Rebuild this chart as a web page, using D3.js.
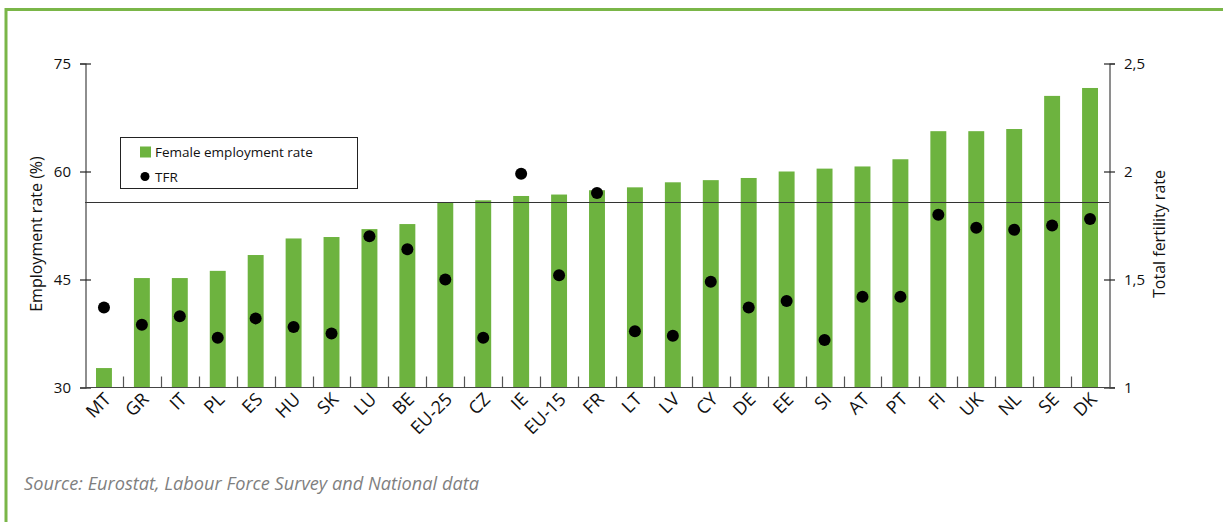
<!DOCTYPE html>
<html>
<head>
<meta charset="utf-8">
<title>Female employment rate and TFR</title>
<script src="https://d3js.org/d3.v7.min.js"></script>
<style>
  body { margin: 0; background: #fff; }
  text { font-family: "Open Sans", "Noto Sans", sans-serif; fill: #111; }
</style>
</head>
<body>
<div id="chart"></div>
<script>
// data
var countries = ["MT", "GR", "IT", "PL", "ES", "HU", "SK", "LU", "BE", "EU-25", "CZ", "IE", "EU-15",
  "FR", "LT", "LV", "CY", "DE", "EE", "SI", "AT", "PT", "FI", "UK", "NL", "SE", "DK"];
var employment = [32.7, 45.2, 45.2, 46.2, 48.4, 50.7, 50.9, 52.0, 52.7, 55.7, 56.0, 56.6, 56.8,
  57.4, 57.8, 58.5, 58.8, 59.1, 60.0, 60.4, 60.7, 61.7, 65.6, 65.6, 65.9, 70.5, 71.6];
var tfr = [1.37, 1.29, 1.33, 1.23, 1.32, 1.28, 1.25, 1.70, 1.64, 1.50, 1.23, 1.99, 1.52,
  1.90, 1.26, 1.24, 1.49, 1.37, 1.40, 1.22, 1.42, 1.42, 1.80, 1.74, 1.73, 1.75, 1.78];
var leftTicks = [30, 45, 60, 75];
var rightTicks = [1, 1.5, 2, 2.5];
var refValue = 55.7; // EU-25 line

var W = 1223, H = 522;
var plotLeft = 85, plotRight = 1109, plotTop = 63.5, plotBottom = 387.5;
var green = "#6db33f";

var svg = d3.select("#chart").append("svg")
  .attr("width", W).attr("height", H);

// frame: top and left green rules
svg.append("line").attr("x1", 5).attr("x2", W).attr("y1", 9.5).attr("y2", 9.5)
  .attr("stroke", "#7ab648").attr("stroke-width", 3);
svg.append("line").attr("x1", 6).attr("x2", 6).attr("y1", 8).attr("y2", H)
  .attr("stroke", "#7ab648").attr("stroke-width", 3);

var x = d3.scaleBand().domain(countries).range([plotLeft, plotRight])
  .paddingInner(0.58).paddingOuter(0.29);
var y = d3.scaleLinear().domain([30, 75]).range([plotBottom, plotTop]);
var y2 = d3.scaleLinear().domain([1, 2.5]).range([plotBottom, plotTop]);

// bars
svg.append("g").selectAll("rect")
  .data(countries)
  .enter()
  .append("rect")
  .attr("x", function (d) { return x(d); })
  .attr("width", x.bandwidth())
  .attr("y", function (d, i) { return y(employment[i]); })
  .attr("height", function (d, i) { return plotBottom - y(employment[i]); })
  .attr("fill", green);

// reference line
svg.append("line")
  .attr("x1", plotLeft).attr("x2", plotRight)
  .attr("y1", Math.round(y(refValue)) + 0.5).attr("y2", Math.round(y(refValue)) + 0.5)
  .attr("stroke", "#333").attr("stroke-width", 1.2);

// category separator ticks
var gap = (x.step() - x.bandwidth()) / 2;
svg.append("g").selectAll("line")
  .data(countries.slice(1))
  .enter()
  .append("line")
  .attr("x1", function (d) { return Math.round(x(d) - gap) + 0.5; })
  .attr("x2", function (d) { return Math.round(x(d) - gap) + 0.5; })
  .attr("y1", plotBottom - 11).attr("y2", plotBottom)
  .attr("stroke", "#555").attr("stroke-width", 1.2);

// axes
var yAxis = d3.axisLeft(y).tickValues(leftTicks).tickSize(5.5).tickPadding(9);
var gl = svg.append("g").attr("transform", "translate(" + (plotLeft + 0.5) + ",0)").call(yAxis);
gl.selectAll(".tick line").attr("x2", 5.5).attr("x1", -5.5);

var y2Axis = d3.axisRight(y2).tickValues(rightTicks).tickSize(5.5).tickPadding(9)
  .tickFormat(function (d) { return String(d).replace(".", ","); });
var gr = svg.append("g").attr("transform", "translate(" + (plotRight + 0.5) + ",0)").call(y2Axis);
gr.selectAll(".tick line").attr("x1", -5.5).attr("x2", 5.5);

[gl, gr].forEach(function (g) {
  g.select(".domain").attr("stroke", "#444").attr("stroke-width", 1.2);
  g.selectAll(".tick line").attr("stroke", "#222").attr("stroke-width", 1.2);
  g.selectAll(".tick text").style("font-size", "15px").attr("fill", "#111")
    .style("font-family", "'Open Sans', sans-serif");
});

// x baseline
svg.append("line").attr("x1", plotLeft).attr("x2", plotRight + 6)
  .attr("y1", plotBottom).attr("y2", plotBottom)
  .attr("stroke", "#444").attr("stroke-width", 1.2);

// x labels
svg.append("g").selectAll("text")
  .data(countries)
  .enter()
  .append("text")
  .attr("transform", function (d) {
    return "translate(" + (x(d) + x.bandwidth() / 2 + 8) + "," + (plotBottom + 13) + ") rotate(-45)";
  })
  .attr("text-anchor", "end")
  .style("font-size", "18px")
  .text(function (d) { return d; });

// TFR dots
svg.append("g").selectAll("circle")
  .data(countries)
  .enter()
  .append("circle")
  .attr("cx", function (d) { return x(d) + x.bandwidth() / 2; })
  .attr("cy", function (d, i) { return y2(tfr[i]); })
  .attr("r", 6)
  .attr("fill", "#000");

// axis titles
svg.append("text")
  .attr("transform", "translate(42,234) rotate(-90)")
  .attr("text-anchor", "middle")
  .style("font-size", "16px")
  .text("Employment rate (%)");
svg.append("text")
  .attr("transform", "translate(1165,234) rotate(-90)")
  .attr("text-anchor", "middle")
  .style("font-size", "16px")
  .text("Total fertility rate");

// legend
var lg = svg.append("g");
lg.append("rect").attr("x", 120.5).attr("y", 137.5).attr("width", 237).attr("height", 51)
  .attr("fill", "#fff").attr("stroke", "#222").attr("stroke-width", 1);
lg.append("rect").attr("x", 140).attr("y", 146.5).attr("width", 11).attr("height", 11)
  .attr("fill", green);
lg.append("text").attr("x", 155).attr("y", 157).style("font-size", "13.5px")
  .text("Female employment rate");
lg.append("circle").attr("cx", 145).attr("cy", 176.5).attr("r", 4.5).attr("fill", "#000");
lg.append("text").attr("x", 155).attr("y", 182).style("font-size", "13.5px")
  .text("TFR");

// source
svg.append("text").attr("x", 24).attr("y", 490)
  .style("font-size", "18.2px").style("font-style", "italic")
  .style("fill", "#7f7f7f")
  .text("Source: Eurostat, Labour Force Survey and National data");
</script>
</body>
</html>
